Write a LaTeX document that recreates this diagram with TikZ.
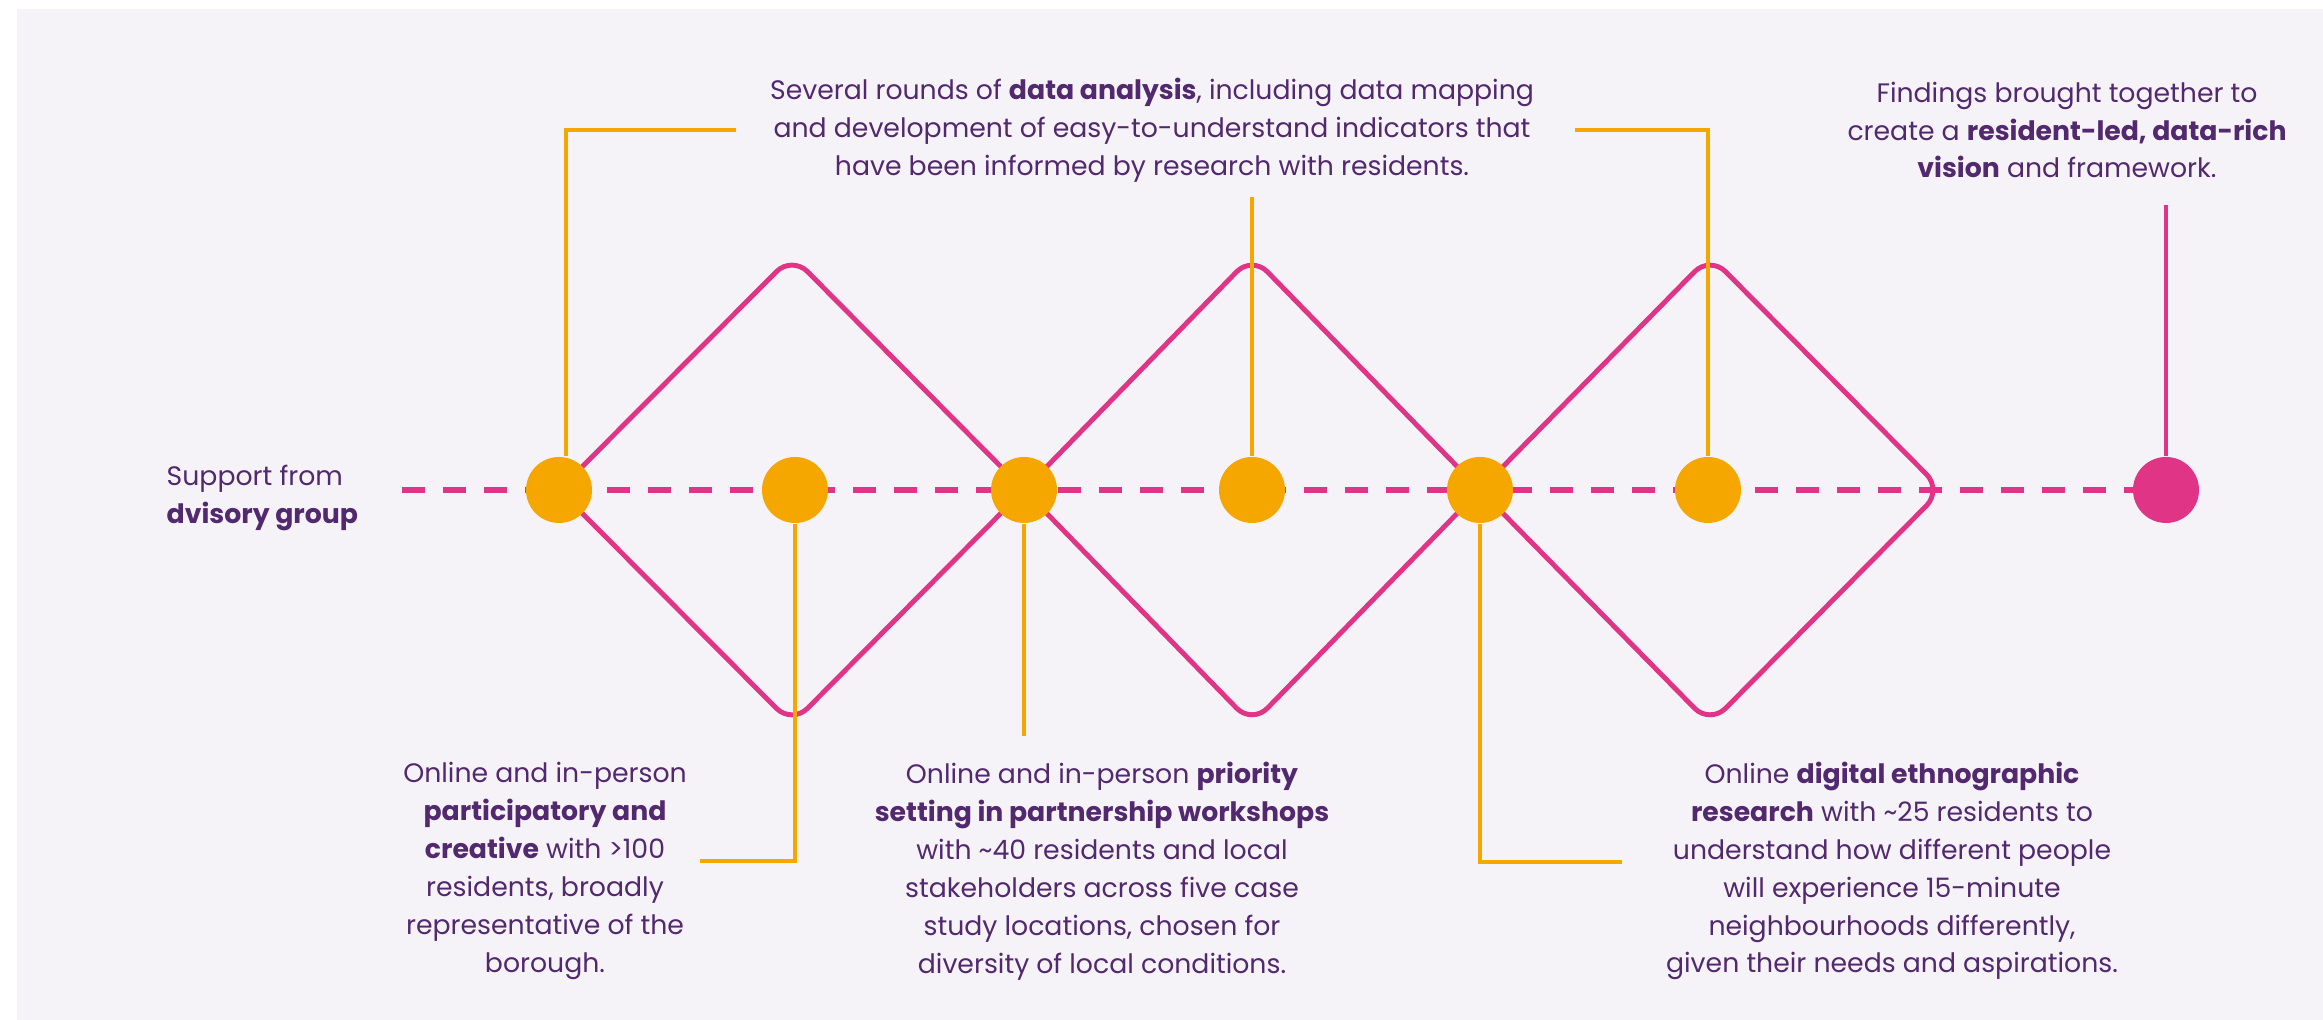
\documentclass[tikz,border=0pt]{standalone}
\usepackage{fontspec}
\setmainfont{Poppins}
\usetikzlibrary{positioning,calc}
\definecolor{bgcol}{HTML}{F5F3F8}
\definecolor{plum}{HTML}{52286E}
\definecolor{amber}{HTML}{F5A700}
\definecolor{rose}{HTML}{E03586}

\begin{document}
\begin{tikzpicture}[
    dot/.style={circle,fill=amber,minimum size=0.66cm,inner sep=0pt},
    enddot/.style={dot,fill=rose},
    lead/.style={amber,line width=1pt},
    diam/.style={rose,line width=1.4pt,rounded corners=0.22cm},
    spine/.style={rose,line width=1.7pt,dash pattern=on 0.23cm off 0.18cm},
    txt/.style={text=plum,font=\fontsize{7.6}{10.8}\selectfont,align=center,inner sep=0pt}]
  \useasboundingbox (0,0) rectangle (23.23,10.20);
  \fill[bgcol] (0.17,0) rectangle (23.23,10.11);

  % stops on the timeline
  \coordinate (start) at (4.02,5.30);
  \coordinate (p1) at (5.59,5.30);
  \coordinate (p2) at (7.95,5.30);
  \coordinate (p3) at (10.24,5.30);
  \coordinate (p4) at (12.52,5.30);
  \coordinate (p5) at (14.80,5.30);
  \coordinate (p6) at (17.08,5.30);
  \coordinate (p7) at (21.66,5.30);

  % three diamonds
  \draw[diam] (p1) -- (7.92,7.64) -- (p3) -- (7.92,2.96) -- cycle;
  \draw[diam] (p3) -- (12.52,7.64) -- (p5) -- (12.52,2.96) -- cycle;
  \draw[diam] (p5) -- (17.10,7.64) -- (19.42,5.30) -- (17.10,2.96) -- cycle;
  \draw[spine] (start) -- (p7);

  \node[dot] (c1) at (p1) {};
  \node[dot] (c2) at (p2) {};
  \node[dot] (c3) at (p3) {};
  \node[dot] (c4) at (p4) {};
  \node[dot] (c5) at (p5) {};
  \node[dot] (c6) at (p6) {};
  \node[enddot] (c7) at (p7) {};

  % texts
  \node[txt,anchor=west,align=left] (support) at (1.66,5.22) {Support from\\\textbf{dvisory group}};
  \node[txt] (analysis) at (11.52,8.90) {Several rounds of \textbf{data analysis}, including data mapping\\and development of easy-to-understand indicators that\\have been informed by research with residents.};
  \node[txt] (findings) at (20.67,8.90) {Findings brought together to\\create a \textbf{resident-led, data-rich}\\\textbf{vision} and framework.};
  \node[txt] (creative) at (5.45,1.49) {Online and in-person\\\textbf{participatory and}\\\textbf{creative} with >100\\residents, broadly\\representative of the\\borough.};
  \node[txt] (priority) at (11.02,1.49) {Online and in-person \textbf{priority}\\\textbf{setting in partnership workshops}\\with \textasciitilde40 residents and local\\stakeholders across five case\\study locations, chosen for\\diversity of local conditions.};
  \node[txt] (ethno) at (18.92,1.49) {Online \textbf{digital ethnographic}\\\textbf{research} with \textasciitilde25 residents to\\understand how different people\\will experience 15-minute\\neighbourhoods differently,\\given their needs and aspirations.};

  % leader lines
  \coordinate (e1) at (7.36,8.90);
  \coordinate (e2) at (7.00,1.59);
  \coordinate (e3) at (10.24,2.84);
  \coordinate (e4) at (12.52,8.23);
  \coordinate (e5) at (16.22,1.58);
  \coordinate (e6) at (15.75,8.90);
  \coordinate (e7) at (21.66,8.15);
  \draw[lead] ([xshift=0.07cm]c1.north) |- (e1);
  \draw[lead] (c2) |- (e2);
  \draw[lead] (c3) -- (e3);
  \draw[lead] (c4) -- (e4);
  \draw[lead] (c5) |- (e5);
  \draw[lead] (c6) |- (e6);
  \draw[rose,line width=1pt] (c7) -- (e7);
\end{tikzpicture}
\end{document}
